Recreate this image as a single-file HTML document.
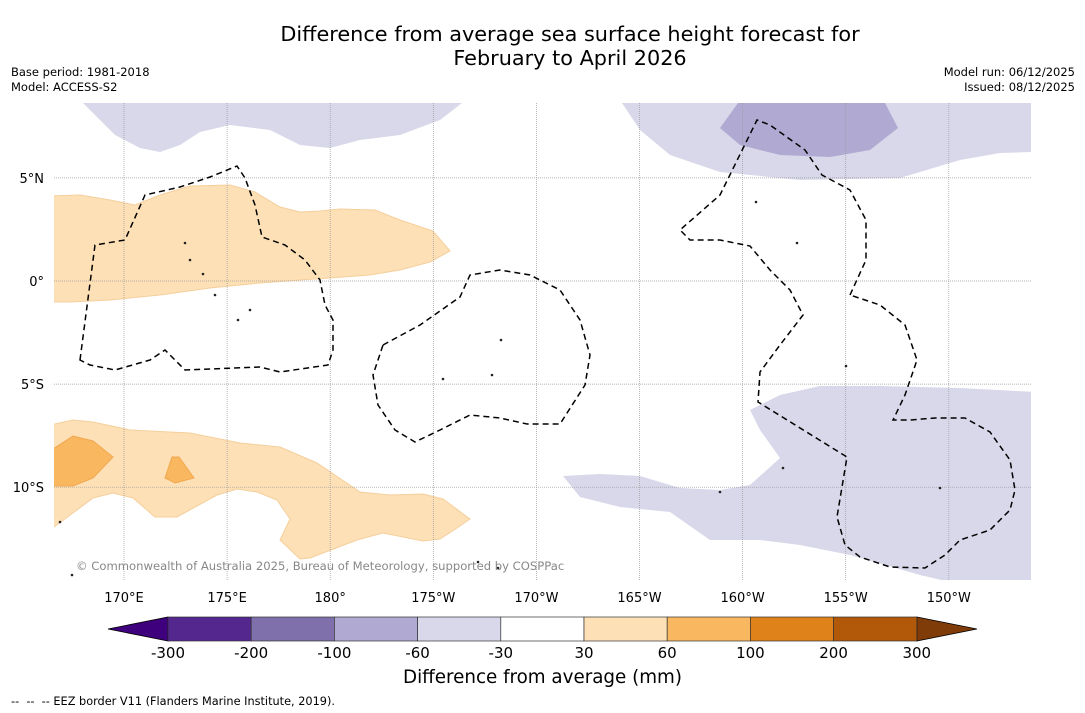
<!DOCTYPE html>
<html><head><meta charset="utf-8"><style>
body{margin:0;background:#fff;font-family:"Liberation Sans","DejaVu Sans",sans-serif}
#wrap{position:relative;width:1085px;height:713px;overflow:hidden;background:#fff}
.t{position:absolute;white-space:nowrap;color:#000}
</style></head><body>
<div id="wrap">
<div class="t" style="left:0;width:1140px;text-align:center;top:22px;font-size:20.8px;line-height:24px;font-family:'DejaVu Sans',sans-serif">Difference from average sea surface height forecast for<br>February to April 2026</div>
<div class="t" style="left:11px;top:65px;font-size:11.5px;line-height:15px;font-family:'DejaVu Sans',sans-serif">Base period: 1981-2018<br>Model: ACCESS-S2</div>
<div class="t" style="right:10px;top:65px;font-size:11.5px;line-height:15px;text-align:right;font-family:'DejaVu Sans',sans-serif">Model run: 06/12/2025<br>Issued: 08/12/2025</div>
<svg id="svg" width="1085" height="713" style="position:absolute;left:0;top:0"></svg>
<div class="t" style="left:0;width:1085px;text-align:center;top:667px;font-size:18.3px;font-family:'DejaVu Sans',sans-serif">Difference from average (mm)</div>
<div class="t" style="left:11px;top:695px;font-size:11.3px;font-family:'DejaVu Sans',sans-serif">-- &nbsp;-- &nbsp;-- EEZ border V11 (Flanders Marine Institute, 2019).</div>
</div>
<script>
const lonTicks=["170°E","175°E","180°","175°W","170°W","165°W","160°W","155°W","150°W"];
const lonVals=[170,175,180,185,190,195,200,205,210];
const latTicks=["5°N","0°","5°S","10°S"];
const latVals=[5,0,-5,-10];
const cbLevels=["-300","-200","-100","-60","-30","30","60","100","200","300"];
const cbColors=["#54278f","#7f70ab","#b0a9d1","#d8d8ea","#ffffff","#fde0b6","#f9b75f","#e0821a","#b25809"];
const NS="http://www.w3.org/2000/svg";
const svg=document.getElementById('svg');
const X0=54,X1=1031,Y0=103,Y1=580;
const xOf=lon=>124+(lon-170)*20.62;
const yOf=lat=>281-lat*20.62;
function mk(t,a){const e=document.createElementNS(NS,t);for(const k in a)e.setAttribute(k,a[k]);svg.appendChild(e);return e;}
const defs=mk('defs',{});
defs.innerHTML='<clipPath id="mc"><rect x="54" y="103" width="977" height="477"/></clipPath>';
const g=mk('g',{'clip-path':'url(#mc)'});


function poly(pts,fill,stroke,name,extra){const e=document.createElementNS(NS,'polygon');e.setAttribute('points',pts);e.setAttribute('fill',fill);e.setAttribute('stroke',stroke);e.setAttribute('stroke-width','1');if(extra)for(const k in extra)e.setAttribute(k,extra[k]);


g.appendChild(e);return e;}
const lav="#d8d8ea";
poly("83,103 100,120 115,135 140,148 160,152 180,145 200,132 230,125 270,130 300,145 330,148 360,140 400,135 440,120 462,103",lav,"none","anomaly-region-north-west");
poly("622,103 640,130 670,155 720,172 800,180 900,178 960,160 1000,153 1031,152 1031,103",lav,"none","anomaly-region-north-east");
poly("738,103 720,128 740,145 780,155 830,157 870,150 898,128 885,103","#b0a9d1","none","anomaly-region-north-east-strong");
poly("563,476 580,497 620,507 670,512 710,540 760,540 800,545 850,555 920,575 950,582 1035,582 1035,392 960,388 880,386 820,386 780,395 750,410 760,430 780,458 750,485 720,490 680,488 640,476 600,474",lav,"none","anomaly-region-south-east");
poly("50,196 80,195 110,200 135,205 160,195 190,186 230,185 255,192 280,207 300,212 320,211 340,209 375,210 400,220 433,231 450,251 430,262 400,270 370,275 330,278 300,280 260,283 210,288 160,295 110,300 70,302 50,302","#fde0b6","#f5cf9c","anomaly-region-equatorial");
poly("50,425 73,420 93,422 130,430 190,433 240,443 280,447 317,463 360,492 390,495 423,494 443,499 470,519 457,528 440,539 423,541 383,533 357,540 310,558 300,559 280,540 290,519 277,500 257,492 237,489 217,495 177,517 155,517 133,498 113,493 93,498 50,530","#fde0b6","#f5cf9c","anomaly-region-south-west");
poly("50,451 73,436 93,441 113,457 93,478 73,486 50,486","#f9b75f","#f0a850","anomaly-region-south-west-strong");
poly("172,457 179,457 194,478 175,483 165,478","#f9b75f","#f0a850","anomaly-region-small-strong");
lonVals.forEach((v,i)=>{const x=xOf(v);const l=document.createElementNS(NS,'line');
l.setAttribute('x1',x);l.setAttribute('x2',x);l.setAttribute('y1',Y0);l.setAttribute('y2',Y1);l.setAttribute('stroke','#999');l.setAttribute('stroke-width','0.7');l.setAttribute('stroke-dasharray','1,1');


g.appendChild(l);
const t=mk('text',{x:x,y:602,'font-size':13,'text-anchor':'middle','font-family':'DejaVu Sans, sans-serif'});t.textContent=lonTicks[i];

});
latVals.forEach((v,i)=>{const y=yOf(v);const l=document.createElementNS(NS,'line');
l.setAttribute('x1',X0);l.setAttribute('x2',X1);l.setAttribute('y1',y);l.setAttribute('y2',y);l.setAttribute('stroke','#999');l.setAttribute('stroke-width','0.7');l.setAttribute('stroke-dasharray','1,1');


g.appendChild(l);
const t=mk('text',{x:44,y:y+5,'font-size':13,'text-anchor':'end','font-family':'DejaVu Sans, sans-serif'});t.textContent=latTicks[i];

});
const dash={'stroke-dasharray':'6,4','stroke-width':'1.5'};
poly("80,360 95,245 125,240 145,195 180,187 210,177 237,166 245,178 255,205 262,237 285,245 305,260 320,280 325,305 333,320 333,350 328,365 280,372 260,367 185,370 165,350 150,360 115,370 90,365","none","#000","eez-border-west",dash);
poly("383,345 420,325 460,297 470,275 500,270 530,275 560,290 580,320 590,355 585,385 560,424 527,424 500,418 470,415 440,430 415,442 395,430 378,405 373,375","none","#000","eez-border-central",dash);
const pl=document.createElementNS(NS,'polyline');
pl.setAttribute('points',"850,295 866,260 866,220 850,190 822,175 805,150 770,125 757,120 720,195 680,230 690,240 720,240 750,246 770,270 790,290 803,315 780,345 760,372 758,402 847,457 837,517 845,545 860,557 890,567 925,568 945,555 960,540 990,530 1010,510 1015,490 1010,460 990,432 965,418 935,418 910,420 893,420 905,395 917,360 905,325 880,305 850,295");
pl.setAttribute('fill','none');pl.setAttribute('stroke','#000');pl.setAttribute('stroke-width','1.5');pl.setAttribute('stroke-dasharray','6,4');


g.appendChild(pl);
[[185,243],[190,260],[203,274],[215,295],[250,310],[238,320],[501,340],[492,375],[443,379],[797,243],[756,202],[783,468],[720,492],[478,562],[498,568],[60,522],[72,575],[940,488],[846,366]].forEach(p=>{const c=document.createElementNS(NS,'circle');c.setAttribute('cx',p[0]);c.setAttribute('cy',p[1]);c.setAttribute('r',1.3);c.setAttribute('fill','#222');


g.appendChild(c);});
const cp=mk('text',{x:76,y:570,'font-size':11.6,fill:'#888','font-family':'DejaVu Sans, sans-serif'});cp.textContent="© Commonwealth of Australia 2025, Bureau of Meteorology, supported by COSPPac";


const cbL=168,cbW=83.2,cbT=617,cbH=24;
const n=cbColors.length;
mk('polygon',{points:`${cbL},${cbT} ${cbL},${cbT+cbH} 108,${cbT+cbH/2}`,fill:'#3f007d',stroke:'#000','stroke-width':0.8,});
mk('polygon',{points:`${cbL+n*cbW},${cbT} ${cbL+n*cbW},${cbT+cbH} 977,${cbT+cbH/2}`,fill:'#7f3b08',stroke:'#000','stroke-width':0.8,});
cbColors.forEach((c,i)=>{const r=mk('rect',{x:cbL+i*cbW,y:cbT,width:cbW,height:cbH,fill:c,stroke:'#333','stroke-width':0.7});

});
cbLevels.forEach((s,i)=>{const t=mk('text',{x:cbL+i*cbW,y:658,'font-size':15,'text-anchor':'middle','font-family':'DejaVu Sans, sans-serif'});t.textContent=s;

});
</script>
</body></html>
